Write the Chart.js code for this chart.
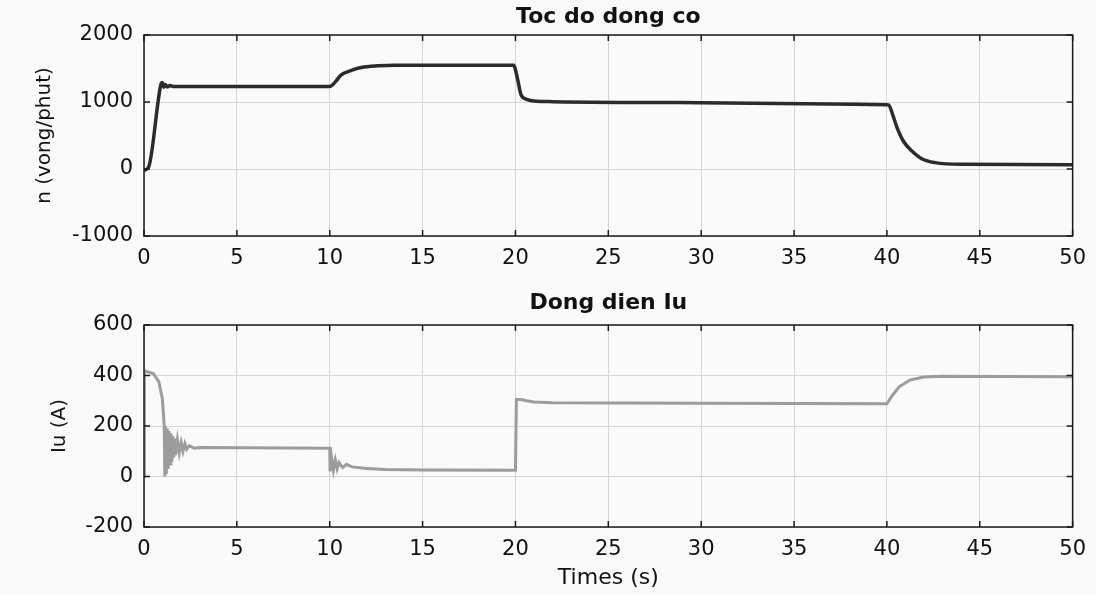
<!DOCTYPE html>
<html>
<head>
<meta charset="utf-8">
<script src="https://cdn.jsdelivr.net/npm/chart.js@4.4.0/dist/chart.umd.min.js"></script>
<style>
  body { margin: 0; background: #fafafa; }
  canvas { position: absolute; left: 0; }
  #speedChart { top: 0; }
  #currentChart { top: 290px; }
</style>
</head>
<body>
<canvas id="speedChart" width="1096" height="290"></canvas>
<canvas id="currentChart" width="1096" height="305"></canvas>
<script>
// time axis (s)
const timeTicks = [0, 5, 10, 15, 20, 25, 30, 35, 40, 45, 50];

// motor speed n (vong/phut)
const speedTime = [0, 0.25, 0.9, 0.98, 1.07, 1.15, 1.25, 1.4, 1.6, 2, 5, 10, 10.3, 10.6, 11.2, 11.7, 12.6, 13.5, 15, 19.9, 20.1, 20.3, 20.6, 21, 22, 30, 40, 40.1, 40.3, 40.55, 40.9, 41.3, 41.9, 42.6, 44, 50];
const speedValues = [-20, 30, 1250, 1290, 1220, 1260, 1225, 1245, 1230, 1232, 1232, 1230, 1300, 1400, 1475, 1515, 1540, 1550, 1550, 1550, 1360, 1110, 1040, 1015, 1005, 990, 960, 955, 820, 615, 410, 280, 150, 95, 70, 65];
const speedTicks = [-1000, 0, 1000, 2000];

// armature current Iu (A)
const currentTime = [0, 0.02, 0.15, 0.5, 0.8, 0.99, 1.09, 1.12, 1.15, 1.2, 1.25, 1.3, 1.35, 1.4, 1.45, 1.5, 1.55, 1.6, 1.65, 1.7, 1.8, 1.9, 2.0, 2.1, 2.2, 2.3, 2.45, 2.7, 3, 10, 10.02, 10.1, 10.2, 10.3, 10.4, 10.5, 10.7, 10.9, 11.2, 12, 13, 15, 20, 20.05, 20.3, 20.6, 21, 22, 30, 40, 40.28, 40.66, 41.23, 41.98, 42.93, 50];
const currentValues = [0, 420, 415, 408, 375, 307, 200, 0, 200, 10, 190, 30, 180, 50, 170, 60, 160, 75, 150, 85, 145, 95, 135, 100, 130, 108, 122, 112, 115, 112, 20, 75, 25, 65, 30, 55, 35, 48, 38, 32, 28, 26, 25, 305, 305, 300, 295, 292, 290, 288, 320, 355, 382, 394, 397, 395];
const currentTicks = [-200, 0, 200, 400, 600];

const FONT = 'DejaVu Sans';

// box around plot + MATLAB style inner ticks
const framePlugin = {
  id: 'frame',
  afterDraw(chart) {
    const { ctx, chartArea: a, scales: { x, y } } = chart;
    ctx.save();
    ctx.strokeStyle = '#1a1a1a';
    ctx.lineWidth = 1.5;
    ctx.strokeRect(a.left, a.top, a.right - a.left, a.bottom - a.top);
    ctx.beginPath();
    x.ticks.forEach(t => {
      const px = x.getPixelForValue(t.value);
      ctx.moveTo(px, a.bottom); ctx.lineTo(px, a.bottom - 6);
      ctx.moveTo(px, a.top); ctx.lineTo(px, a.top + 6);
    });
    y.ticks.forEach(t => {
      const py = y.getPixelForValue(t.value);
      ctx.moveTo(a.left, py); ctx.lineTo(a.left + 6, py);
      ctx.moveTo(a.right, py); ctx.lineTo(a.right - 6, py);
    });
    ctx.stroke();
    ctx.restore();
  }
};

function makeChart(id, opts) {
  const points = opts.t.map((t, i) => ({ x: t, y: opts.v[i] }));
  return new Chart(document.getElementById(id), {
    type: 'line',
    data: {
      datasets: [{
        data: points,
        borderColor: opts.color,
        borderWidth: opts.width,
        pointRadius: 0,
        tension: 0,
        cubicInterpolationMode: opts.smooth ? 'monotone' : 'default'
      }]
    },
    options: {
      responsive: false,
      animation: false,
      devicePixelRatio: 1,
      layout: { padding: { left: 0, right: 18, top: 0, bottom: 0 } },
      plugins: {
        legend: { display: false },
        tooltip: { enabled: false },
        title: {
          display: true,
          fullSize: false,
          text: opts.title,
          color: '#111',
          font: { family: FONT, size: 22, weight: 'bold' },
          padding: opts.titlePad
        }
      },
      scales: {
        x: {
          type: 'linear',
          min: 0, max: 50,
          afterBuildTicks: s => { s.ticks = timeTicks.map(v => ({ value: v })); },
          afterFit: s => { s.height = opts.xHeight; },
          grid: { color: '#d6d6d6', drawTicks: false },
          border: { display: false },
          ticks: { color: '#111', padding: 10, maxRotation: 0, font: { family: FONT, size: 21 }, callback: v => String(v) },
          title: opts.xTitle ? {
            display: true, text: opts.xTitle, color: '#111',
            font: { family: FONT, size: 22 }, padding: { top: 0, bottom: 4 }
          } : { display: false }
        },
        y: {
          min: opts.yMin, max: opts.yMax,
          afterBuildTicks: s => { s.ticks = opts.yTicks.map(v => ({ value: v })); },
          afterFit: s => { s.width = 144; },
          grid: { color: '#d6d6d6', drawTicks: false },
          border: { display: false },
          ticks: { color: '#111', padding: 11, font: { family: FONT, size: 21 }, callback: v => String(v) },
          title: {
            display: true, text: opts.yTitle, color: '#111',
            font: { family: FONT, size: 20 }, padding: { top: opts.yTitleOffset, bottom: 0 }
          }
        }
      }
    },
    plugins: [framePlugin]
  });
}

makeChart('speedChart', {
  t: speedTime, v: speedValues, color: '#2b2b2b', width: 3.5, smooth: true,
  title: 'Toc do dong co', titlePad: { top: 4, bottom: 4.6 },
  yMin: -1000, yMax: 2000, yTicks: speedTicks,
  yTitle: 'n (vong/phut)', yTitleOffset: 33,
  xHeight: 54
});

makeChart('currentChart', {
  t: currentTime, v: currentValues, color: '#9c9c9c', width: 3, smooth: false,
  title: 'Dong dien Iu', titlePad: { top: 0, bottom: 8.6 },
  yMin: -200, yMax: 600, yTicks: currentTicks,
  yTitle: 'Iu (A)', yTitleOffset: 48,
  xTitle: 'Times (s)', xHeight: 68
});
</script>
</body>
</html>
